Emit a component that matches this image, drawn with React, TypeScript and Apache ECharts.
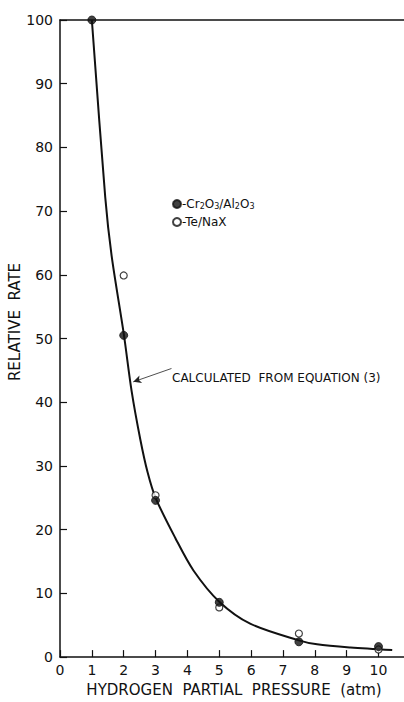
import React, { useEffect, useRef } from "react";
import * as echarts from "echarts";

const xTicks = [0, 1, 2, 3, 4, 5, 6, 7, 8, 9, 10];
const crAlX = [1, 2, 3, 5, 7.5, 10];
const crAlY = [100, 50.5, 24.6, 8.6, 2.4, 1.65];
const teNaxX = [2, 3, 5, 7.5, 10];
const teNaxY = [59.9, 25.4, 7.8, 3.7, 1.2];
const curveX = [1, 1.42, 1.62, 2, 2.25, 2.52, 2.75, 3, 3.62, 4.19, 5, 5.97, 7.47, 8.07, 9.12, 10.43];
const curveY = [100, 72.2, 63, 50.8, 41.7, 34.2, 29, 25, 18.7, 13.6, 8.7, 5.25, 2.67, 2.0, 1.5, 1.1];

const FONT = "DejaVu Sans";

export default function App() {
  const ref = useRef<HTMLDivElement>(null);
  useEffect(() => {
    const chart = echarts.init(ref.current!, null, { renderer: "svg" });
    const sub = { fontSize: 8, fontFamily: FONT, color: "#111", verticalAlign: "bottom", lineHeight: 10, padding: [5, 0, 0, 0] };
    chart.setOption({
      animation: false,
      backgroundColor: "#fff",
      grid: { left: 60, top: 20, right: 0, bottom: 34, containLabel: false },
      xAxis: [
        {
          type: "value",
          min: 0,
          max: 10.8,
          interval: 1,
          axisLine: { show: true, onZero: false, lineStyle: { color: "#111", width: 1.5 } },
          axisTick: { show: true, inside: true, length: 7, lineStyle: { color: "#111", width: 1.2 } },
          axisLabel: {
            color: "#111",
            fontFamily: FONT,
            fontSize: 14,
            margin: 6,
            formatter: (v: number) => (xTicks.includes(v) ? String(v) : ""),
            showMaxLabel: false,
          },
          splitLine: { show: false },
          name: "HYDROGEN  PARTIAL  PRESSURE  (atm)",
          nameLocation: "middle",
          nameGap: 21,
          nameTextStyle: { color: "#111", fontFamily: FONT, fontSize: 15, padding: [0, 0, 0, 4] },
        },
        {
          type: "value",
          position: "top",
          min: 0,
          max: 10.8,
          axisLine: { show: true, onZero: false, lineStyle: { color: "#111", width: 1.5 } },
          axisTick: { show: false },
          axisLabel: { show: false },
          splitLine: { show: false },
        },
      ],
      yAxis: {
        type: "value",
        min: 0,
        max: 100,
        interval: 10,
        axisLine: { show: true, onZero: false, lineStyle: { color: "#111", width: 1.5 } },
        axisTick: { show: true, inside: true, length: 7, lineStyle: { color: "#111", width: 1.2 } },
        axisLabel: { color: "#111", fontFamily: FONT, fontSize: 14, margin: 7 },
        splitLine: { show: false },
      },
      legend: {
        left: 172,
        top: 197,
        padding: 0,
        orient: "vertical",
        itemWidth: 8,
        itemHeight: 8,
        itemGap: 6,
        icon: "circle",
        data: ["Cr2O3/Al2O3", "Te/NaX"],
        textStyle: {
          color: "#111",
          fontFamily: FONT,
          fontSize: 12,
          padding: [0, 0, 0, -4],
          rich: { sub },
        },
        formatter: (name: string) =>
          name === "Cr2O3/Al2O3"
            ? "-Cr{sub|2}O{sub|3}/Al{sub|2}O{sub|3}"
            : "-Te/NaX",
      },
      graphic: [
        {
          type: "text",
          x: 15,
          y: 322,
          rotation: Math.PI / 2,
          style: {
            text: "RELATIVE  RATE",
            fill: "#111",
            font: `15px "${FONT}"`,
            align: "center",
            verticalAlign: "middle",
          },
        },
        {
          type: "text",
          x: 172,
          y: 378,
          style: {
            text: "CALCULATED  FROM EQUATION (3)",
            fill: "#111",
            font: `12px "${FONT}"`,
            align: "left",
            verticalAlign: "middle",
          },
        },
      ],
      series: [
        {
          type: "line",
          name: "calc",
          data: curveX.map((x, i) => [x, curveY[i]]),
          smooth: 0.3,
          symbol: "none",
          lineStyle: { color: "#111", width: 2 },
          clip: false,
          z: 1,
          markLine: {
            silent: true,
            symbol: ["none", "arrow"],
            symbolSize: [6, 8],
            label: { show: false },
            lineStyle: { color: "#222", width: 0.8, type: "solid" },
            data: [[{ coord: [3.5, 45.3] }, { coord: [2.3, 43.2] }]],
          },
        },
        {
          type: "scatter",
          name: "Cr2O3/Al2O3",
          data: crAlX.map((x, i) => [x, crAlY[i]]),
          symbol: "circle",
          symbolSize: 8,
          itemStyle: { color: "#111", borderColor: "#111", borderWidth: 1 },
          clip: false,
          z: 3,
        },
        {
          type: "scatter",
          name: "Te/NaX",
          data: teNaxX.map((x, i) => [x, teNaxY[i]]),
          symbol: "circle",
          symbolSize: 7,
          itemStyle: { color: "#fff", borderColor: "#111", borderWidth: 1.2 },
          clip: false,
          z: 2,
        },
      ],
    });
    return () => chart.dispose();
  }, []);
  return (
    <div
      ref={ref}
      style={{ position: "fixed", left: 0, top: 0, width: 404, height: 702 }}
    />
  );
}
